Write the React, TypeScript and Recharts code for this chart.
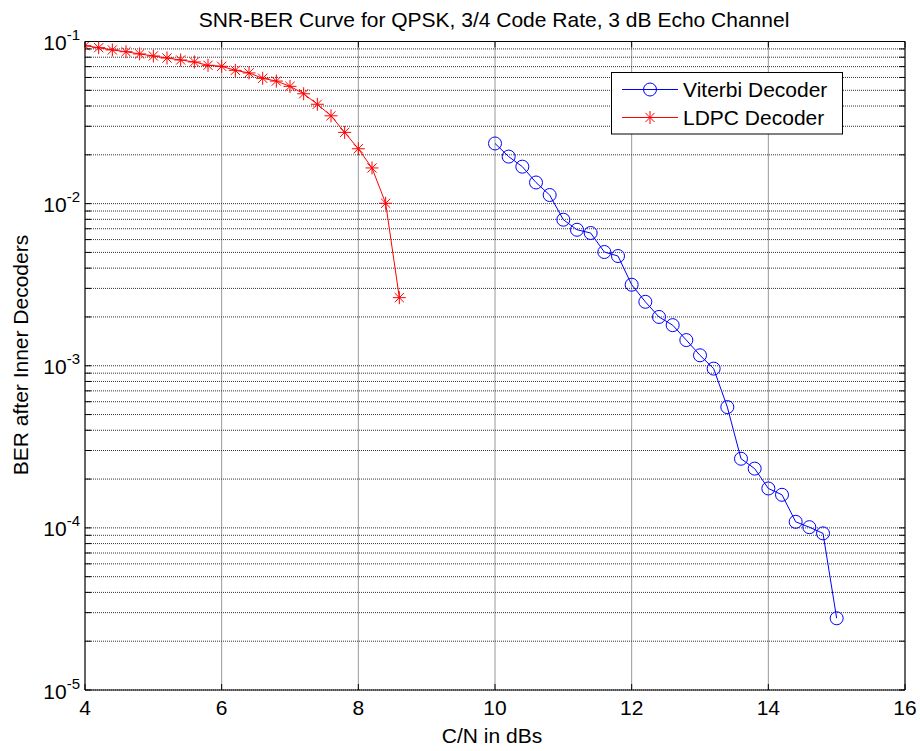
import { CartesianGrid, Label, Legend, Line, LineChart, XAxis, YAxis } from 'recharts'

// C/N (dB) and BER after the inner decoders
const snrViterbi = [10, 10.2, 10.4, 10.6, 10.8, 11, 11.2, 11.4, 11.6, 11.8, 12, 12.2, 12.4, 12.6, 12.8, 13, 13.2, 13.4, 13.6, 13.8, 14, 14.2, 14.4, 14.6, 14.8, 15]
const berViterbi = [
  0.0235, 0.0195, 0.0169, 0.0135, 0.0113, 0.00796, 0.0069, 0.00659, 0.00503, 0.00475, 0.00316, 0.00248, 0.002,
  0.00178, 0.00144, 0.00116, 0.00096, 0.000556, 0.000267, 0.000232, 0.000175, 0.00016, 0.000109, 0.000101,
  0.0000925, 0.0000277,
]

const snrLdpc = [4, 4.2, 4.4, 4.6, 4.8, 5, 5.2, 5.4, 5.6, 5.8, 6, 6.2, 6.4, 6.6, 6.8, 7, 7.2, 7.4, 7.6, 7.8, 8, 8.2, 8.4, 8.6]
const berLdpc = [
  0.0942, 0.0916, 0.0887, 0.0865, 0.0838, 0.0814, 0.0791, 0.0769, 0.0748, 0.0713, 0.0703, 0.0664, 0.064, 0.0593,
  0.057, 0.0529, 0.0476, 0.041, 0.0348, 0.0275, 0.0218, 0.0166, 0.01005, 0.00263,
]

const xTicks = [4, 6, 8, 10, 12, 14, 16]
const decades = [1e-5, 1e-4, 1e-3, 1e-2]
const mantissas = [1, 2, 3, 4, 5, 6, 7, 8, 9]
const yTicks = [...decades.flatMap((d) => mantissas.map((m) => m * d)), 1e-1]

const viterbi = snrViterbi.map((snr, i) => ({ snr, ber: berViterbi[i] }))
const ldpc = snrLdpc.map((snr, i) => ({ snr, ber: berLdpc[i] }))

const FONT = '"Liberation Sans", Arial, Helvetica, sans-serif'
const BLUE = '#0000ff'
const RED = '#ff0000'
const TICK = 6

function isDecade(v: number) {
  const e = Math.round(Math.log10(v))
  return Math.abs(v / Math.pow(10, e) - 1) < 1e-6
}

function LeftTick({ x, y, payload }: any) {
  const v = payload.value as number
  const e = Math.round(Math.log10(v))
  return (
    <g>
      <line x1={x} x2={x + TICK} y1={y} y2={y} stroke="#000" />
      {isDecade(v) && (
        <text x={x - 5} y={y + 8.5} textAnchor="end" fontFamily={FONT} fontSize={21} fill="#000">
          10
          <tspan dy={-10} fontSize={15}>
            {`-${Math.abs(e)}`}
          </tspan>
        </text>
      )}
    </g>
  )
}

function RightTick({ x, y }: any) {
  return <line x1={x} x2={x - TICK} y1={y} y2={y} stroke="#000" />
}

function BottomTick({ x, y, payload }: any) {
  return (
    <g>
      <line x1={x} x2={x} y1={y} y2={y - TICK} stroke="#000" />
      <text x={x} y={y + 25} textAnchor="middle" fontFamily={FONT} fontSize={21} fill="#000">
        {payload.value}
      </text>
    </g>
  )
}

function TopTick({ x, y }: any) {
  return <line x1={x} x2={x} y1={y} y2={y + TICK} stroke="#000" />
}

function Circle({ cx, cy, stroke }: { cx: number; cy: number; stroke: string }) {
  return <circle cx={cx} cy={cy} r={6.5} fill="none" stroke={stroke} strokeWidth={1} />
}

function Asterisk({ cx, cy, stroke }: { cx: number; cy: number; stroke: string }) {
  const a = 6.5
  const d = 4.6
  return (
    <g stroke={stroke} strokeWidth={1}>
      <line x1={cx - a} x2={cx + a} y1={cy} y2={cy} />
      <line x1={cx} x2={cx} y1={cy - a} y2={cy + a} />
      <line x1={cx - d} x2={cx + d} y1={cy - d} y2={cy + d} />
      <line x1={cx - d} x2={cx + d} y1={cy + d} y2={cy - d} />
    </g>
  )
}

const circleDot = (p: any) => <Circle key={`v-${p.index}`} cx={p.cx} cy={p.cy} stroke={BLUE} />
const starDot = (p: any) => <Asterisk key={`l-${p.index}`} cx={p.cx} cy={p.cy} stroke={RED} />

const legendRows = [
  { name: 'Viterbi Decoder', color: BLUE, Marker: Circle },
  { name: 'LDPC Decoder', color: RED, Marker: Asterisk },
]

function LegendBox() {
  return (
    <svg width={232} height={63} style={{ display: 'block' }}>
      <rect x={0.5} y={0.5} width={231} height={61.5} fill="#fff" stroke="#000" />
      {legendRows.map(({ name, color, Marker }, i) => {
        const cy = 17.5 + i * 28
        return (
          <g key={name}>
            <line x1={11} x2={67} y1={cy} y2={cy} stroke={color} />
            <Marker cx={39} cy={cy} stroke={color} />
            <text x={72} y={cy + 7.5} fontFamily={FONT} fontSize={21} fill="#000">
              {name}
            </text>
          </g>
        )
      })}
    </svg>
  )
}

export default function App() {
  return (
    <div style={{ position: 'absolute', left: 0, top: 0, width: 920, height: 751, background: '#fff' }}>
      <LineChart width={920} height={751} margin={{ top: 0, right: 0, bottom: 0, left: 0 }}>
        <CartesianGrid stroke="#333" strokeDasharray="1 1" />
        <XAxis
          dataKey="snr"
          type="number"
          domain={[4, 16]}
          ticks={xTicks}
          interval={0}
          allowDataOverflow
          height={61}
          tickSize={0}
          tickMargin={0}
          tickLine={false}
          axisLine={{ stroke: '#000' }}
          tick={<BottomTick />}
        >
          <Label
            content={() => (
              <text x={492} y={743} textAnchor="middle" fontFamily={FONT} fontSize={21} fill="#000">
                C/N in dBs
              </text>
            )}
          />
        </XAxis>
        <XAxis
          xAxisId="top"
          orientation="top"
          dataKey="snr"
          type="number"
          domain={[4, 16]}
          ticks={xTicks}
          interval={0}
          allowDataOverflow
          height={41.5}
          tickSize={0}
          tickMargin={0}
          tickLine={false}
          axisLine={{ stroke: '#000' }}
          tick={<TopTick />}
        >
          <Label
            content={() => (
              <text x={494} y={27} textAnchor="middle" fontFamily={FONT} fontSize={21} fill="#000">
                SNR-BER Curve for QPSK, 3/4 Code Rate, 3 dB Echo Channel
              </text>
            )}
          />
        </XAxis>
        <YAxis
          scale="log"
          domain={[1e-5, 1e-1]}
          ticks={yTicks}
          interval={0}
          allowDataOverflow
          width={85}
          tickSize={0}
          tickMargin={0}
          tickLine={false}
          axisLine={{ stroke: '#000' }}
          tick={<LeftTick />}
        >
          <Label
            content={() => (
              <text
                x={28}
                y={355}
                transform="rotate(-90 28 355)"
                textAnchor="middle"
                fontFamily={FONT}
                fontSize={21}
                fill="#000"
              >
                BER after Inner Decoders
              </text>
            )}
          />
        </YAxis>
        <YAxis
          yAxisId="right"
          orientation="right"
          scale="log"
          domain={[1e-5, 1e-1]}
          ticks={yTicks}
          interval={0}
          allowDataOverflow
          width={15}
          tickSize={0}
          tickMargin={0}
          tickLine={false}
          axisLine={{ stroke: '#000' }}
          tick={<RightTick />}
        />
        <Legend
          layout="vertical"
          align="center"
          verticalAlign="middle"
          wrapperStyle={{ left: 611, top: 72, width: 232, height: 63 }}
          content={() => <LegendBox />}
        />
        <Line
          data={viterbi}
          dataKey="ber"
          name="Viterbi Decoder"
          type="linear"
          stroke={BLUE}
          strokeWidth={1}
          dot={circleDot}
          activeDot={false}
          isAnimationActive={false}
        />
        <Line
          data={ldpc}
          dataKey="ber"
          name="LDPC Decoder"
          type="linear"
          stroke={RED}
          strokeWidth={1}
          dot={starDot}
          activeDot={false}
          isAnimationActive={false}
        />
      </LineChart>
    </div>
  )
}
